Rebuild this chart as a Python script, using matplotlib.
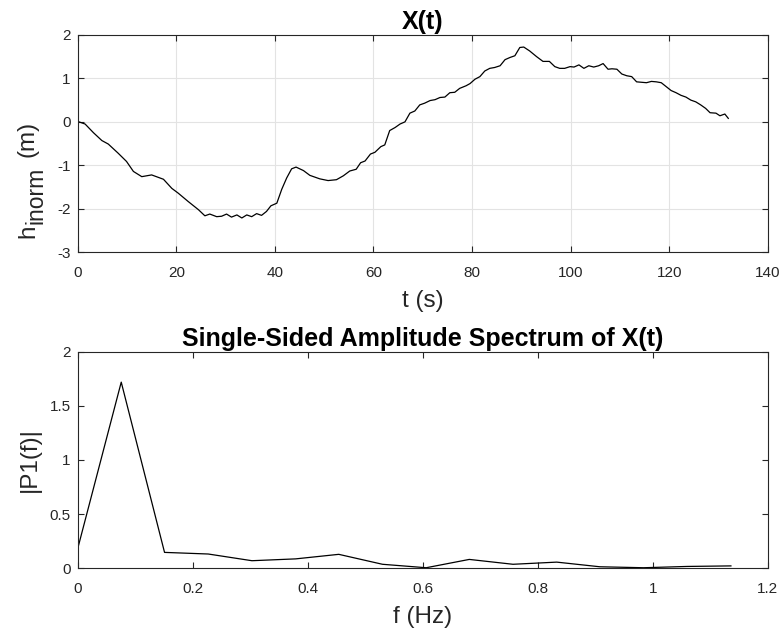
import matplotlib
matplotlib.use("Agg")
import matplotlib.pyplot as plt
from matplotlib.ticker import MultipleLocator

plt.rcParams['font.family'] = ['Liberation Sans', 'DejaVu Sans']
plt.rcParams['axes.unicode_minus'] = False

# time signal
t_sec = [0, 1.5, 3.2, 4.9, 6.2, 8.2, 9.9, 11.3, 13.0, 15.0, 17.4, 19.1, 20.4, 22.4,
         24.5, 25.8, 26.8, 28.2, 29.2, 30.2, 31.2, 32.3, 33.3, 34.3, 35.3, 36.3,
         37.3, 38.3, 39.2, 40.4, 41.4, 42.4, 43.4, 44.3, 45.8, 47.1, 49.1, 50.8,
         52.5, 53.9, 55.2, 56.5, 57.4, 58.3, 59.4, 60.3, 61.5, 62.3, 63.3, 64.4,
         65.4, 66.4, 67.4, 68.4, 69.4, 70.4, 71.5, 72.5, 73.5, 74.5, 75.5, 76.5,
         77.5, 78.8, 79.6, 80.6, 81.6, 82.6, 83.6, 84.6, 85.7, 86.7, 87.7, 88.7,
         89.7, 90.5, 91.7, 93.1, 94.4, 95.7, 96.8, 97.8, 98.8, 99.9, 100.7, 101.7,
         102.7, 103.7, 104.7, 105.7, 106.6, 107.6, 108.4, 109.4, 110.4, 111.4,
         112.4, 113.4, 114.4, 115.4, 116.4, 117.4, 118.4, 119.4, 120.4, 121.4,
         122.4, 123.4, 124.4, 125.4, 126.4, 127.4, 128.3, 129.5, 130.3, 131.3, 132.0]
h_inorm = [0.01, -0.05, -0.25, -0.43, -0.51, -0.72, -0.91, -1.14, -1.26, -1.22,
           -1.32, -1.53, -1.64, -1.83, -2.02, -2.16, -2.12, -2.18, -2.17, -2.12,
           -2.19, -2.14, -2.21, -2.14, -2.18, -2.11, -2.15, -2.06, -1.93, -1.87,
           -1.55, -1.29, -1.08, -1.04, -1.12, -1.23, -1.31, -1.35, -1.33, -1.24,
           -1.13, -1.09, -0.94, -0.90, -0.74, -0.70, -0.57, -0.53, -0.20, -0.13,
           -0.05, 0.0, 0.20, 0.25, 0.39, 0.43, 0.49, 0.51, 0.56, 0.57, 0.67, 0.68,
           0.77, 0.83, 0.88, 0.98, 1.04, 1.17, 1.23, 1.25, 1.29, 1.43, 1.48, 1.52,
           1.71, 1.72, 1.63, 1.50, 1.39, 1.39, 1.27, 1.23, 1.23, 1.27, 1.26, 1.31,
           1.23, 1.29, 1.26, 1.29, 1.34, 1.21, 1.22, 1.21, 1.10, 1.06, 1.04, 0.92,
           0.91, 0.90, 0.93, 0.92, 0.90, 0.81, 0.72, 0.67, 0.61, 0.57, 0.50, 0.46,
           0.39, 0.31, 0.21, 0.20, 0.14, 0.18, 0.08]

# single-sided spectrum
freq = [0, 0.0757, 0.151, 0.227, 0.303, 0.379, 0.454, 0.530, 0.606, 0.681,
        0.757, 0.833, 0.908, 0.984, 1.060, 1.136]
p1 = [0.18, 1.72, 0.145, 0.13, 0.068, 0.085, 0.127, 0.035, 0.003, 0.08,
      0.035, 0.055, 0.012, 0.003, 0.015, 0.02]

spine_col = '#262626'
LABEL_FS = 17.5
TITLE_FS = 18

fig = plt.figure(figsize=(7.81, 6.34), dpi=100)
ax1 = fig.add_axes([0.0995, 0.602, 0.8835, 0.343])
ax2 = fig.add_axes([0.0995, 0.104, 0.8835, 0.341])

ax1.plot(t_sec, h_inorm, color='black', lw=0.9)
ax1.set_xlim(0, 140)
ax1.set_ylim(-3, 2)
ax1.xaxis.set_major_locator(MultipleLocator(20))
ax1.yaxis.set_major_locator(MultipleLocator(1))
ax1.grid(True, color='#e3e3e3', lw=0.8)
ax1.set_axisbelow(True)
ax1.set_title('X(t)', fontsize=TITLE_FS, fontweight='bold', pad=4)
ax1.set_xlabel('t (s)', fontsize=LABEL_FS, labelpad=7, color=spine_col)

ax2.plot(freq, p1, color='black', lw=0.9)
ax2.set_xlim(0, 1.2)
ax2.set_ylim(0, 2)
ax2.set_xticks([0, 0.2, 0.4, 0.6, 0.8, 1.0, 1.2])
ax2.set_xticklabels(['0', '0.2', '0.4', '0.6', '0.8', '1', '1.2'])
ax2.set_yticks([0, 0.5, 1, 1.5, 2])
ax2.set_yticklabels(['0', '0.5', '1', '1.5', '2'])
ax2.set_title('Single-Sided Amplitude Spectrum of X(t)', fontsize=TITLE_FS, fontweight='bold', pad=4)
ax2.set_xlabel('f (Hz)', fontsize=LABEL_FS, labelpad=7, color=spine_col)
ax2.set_ylabel('|P1(f)|', fontsize=LABEL_FS, labelpad=6, color=spine_col)

for ax in (ax1, ax2):
    for s in ax.spines.values():
        s.set_color(spine_col)
        s.set_linewidth(0.8)
    ax.tick_params(direction='in', top=True, right=True, length=4, width=0.8,
                   color=spine_col, labelsize=11, labelcolor=spine_col, pad=5)
    ax.tick_params(axis='x', pad=10)

# y label of the top plot: "h" with a large subscript "inorm", then "(m)"
renderer = fig.canvas.get_renderer()
tr = fig.dpi_scale_trans
base_x = 34 / 100
y0 = (634 - 238) / 100
txt_h = fig.text(base_x, y0, 'h', rotation=90, rotation_mode='anchor',
                 ha='left', va='baseline', fontsize=LABEL_FS, color=spine_col, transform=tr)
ext = txt_h.get_window_extent(renderer)
txt_sub = fig.text(base_x + 0.08, ext.y1 / 100 + 0.01, 'inorm', rotation=90, rotation_mode='anchor',
                   ha='left', va='baseline', fontsize=16.5, color=spine_col, transform=tr)
ext = txt_sub.get_window_extent(renderer)
fig.text(base_x, ext.y1 / 100 + 0.09, '(m)', rotation=90, rotation_mode='anchor',
         ha='left', va='baseline', fontsize=LABEL_FS, color=spine_col, transform=tr)

fig.savefig('out.png', dpi=100)
